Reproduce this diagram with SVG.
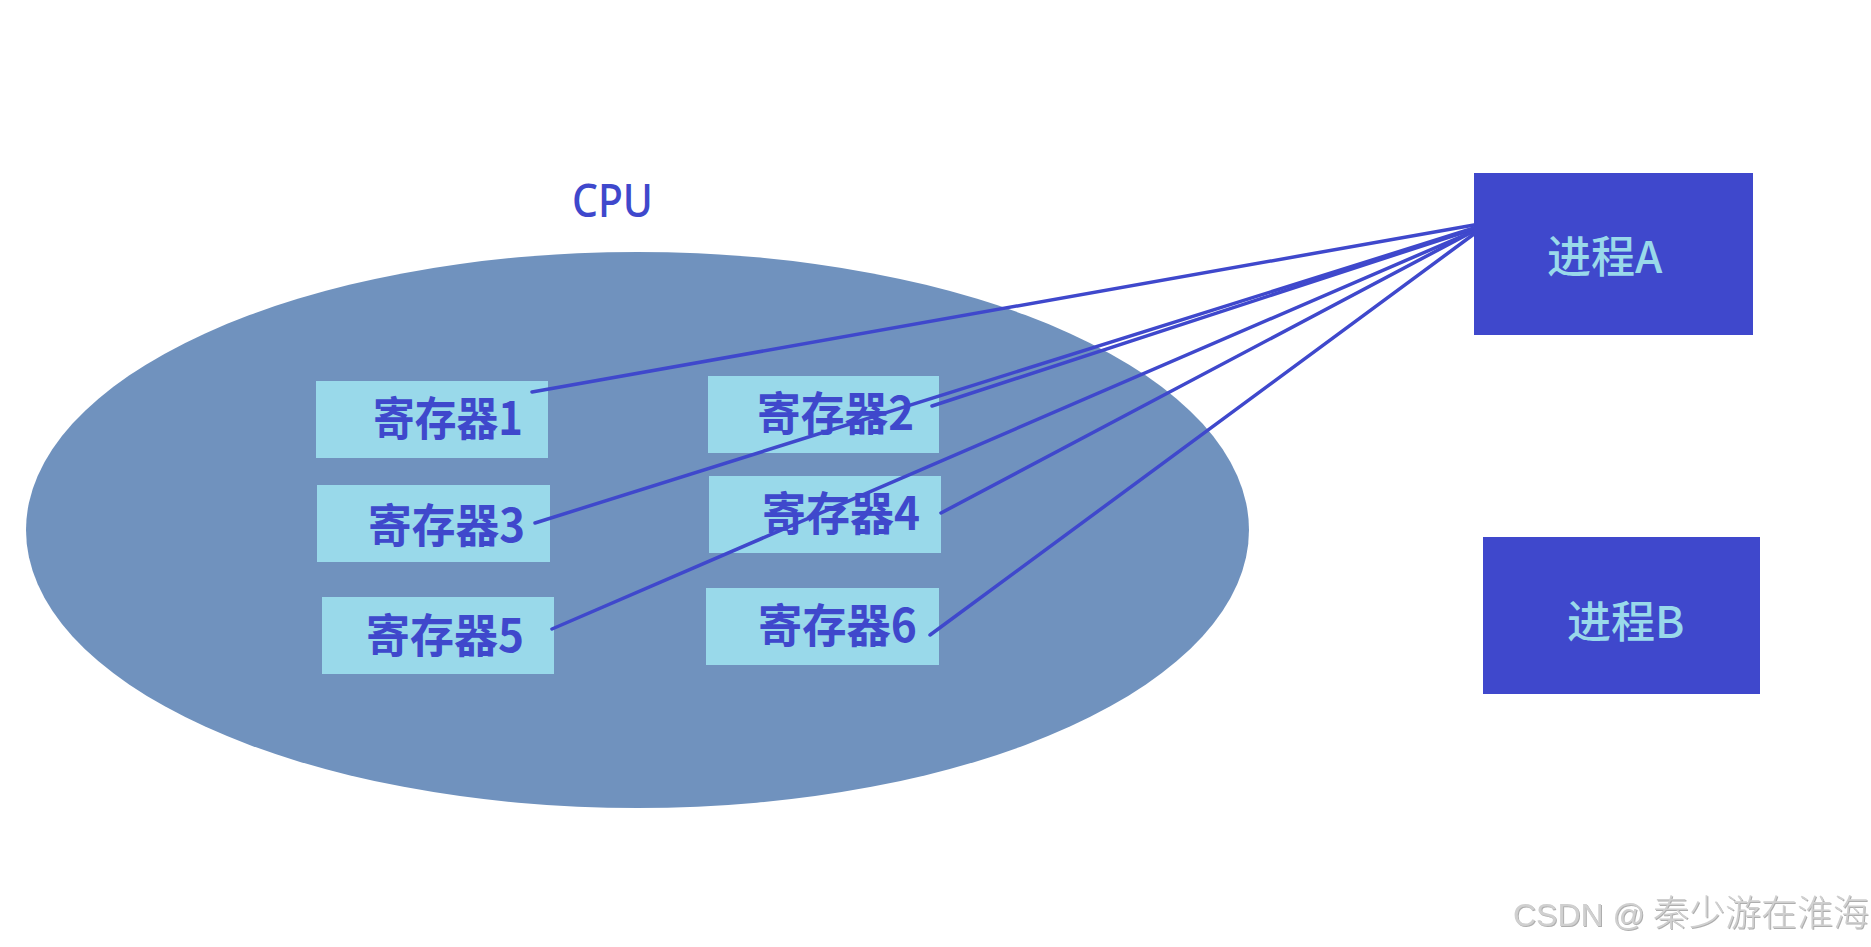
<svg xmlns="http://www.w3.org/2000/svg" width="1871" height="947" viewBox="0 0 1871 947">
  <defs>
    <style>
      .reg rect { fill: #99d9ea; }
      .reg text { fill: #3f48cc; font-family: "Noto Sans CJK SC", "Noto Sans", sans-serif; font-size: 46px; font-weight: 700; }
      .proc rect { fill: #3f48cc; }
      .proc text { fill: #99d9ea; font-family: "Noto Sans CJK SC", "Noto Sans", sans-serif; font-size: 44px; font-weight: 500; }
      .conn line { stroke: #3f48cc; stroke-width: 3.5; stroke-linecap: round; }
      .wm { fill: #d0d0d0; font-family: "Liberation Sans", "Noto Sans CJK SC", sans-serif; }
    </style>
    <filter id="emboss" x="-5%" y="-30%" width="110%" height="160%">
      <feDropShadow dx="1" dy="1" stdDeviation="0.6" flood-color="#9a9a9a" flood-opacity="0.8"/>
    </filter>
  </defs>
  <rect width="1871" height="947" fill="#ffffff"/>

  <g id="cpu">
    <ellipse cx="637.5" cy="530" rx="611.5" ry="278" fill="#7092be"/>
    <text x="572" y="217" fill="#3f48cc" font-family="Noto Sans, sans-serif" font-size="45" font-weight="500" textLength="81" lengthAdjust="spacingAndGlyphs">CPU</text>
  </g>

  <g id="reg1" class="reg">
    <rect x="316" y="381" width="232" height="77"/>
    <text x="373" y="435" textLength="150" lengthAdjust="spacingAndGlyphs">寄存器1</text>
  </g>
  <g id="reg2" class="reg">
    <rect x="708" y="376" width="231" height="77"/>
    <text x="757" y="430" textLength="157" lengthAdjust="spacingAndGlyphs">寄存器2</text>
  </g>
  <g id="reg3" class="reg">
    <rect x="317" y="485" width="233" height="77"/>
    <text x="368" y="542" textLength="157" lengthAdjust="spacingAndGlyphs">寄存器3</text>
  </g>
  <g id="reg4" class="reg">
    <rect x="709" y="476" width="232" height="77"/>
    <text x="762" y="530" textLength="158" lengthAdjust="spacingAndGlyphs">寄存器4</text>
  </g>
  <g id="reg5" class="reg">
    <rect x="322" y="597" width="232" height="77"/>
    <text x="366" y="652" textLength="158" lengthAdjust="spacingAndGlyphs">寄存器5</text>
  </g>
  <g id="reg6" class="reg">
    <rect x="706" y="588" width="233" height="77"/>
    <text x="758" y="642" textLength="159" lengthAdjust="spacingAndGlyphs">寄存器6</text>
  </g>

  <g id="connectors" class="conn">
    <line x1="532" y1="392" x2="1474" y2="225"/>
    <line x1="932" y1="406" x2="1474" y2="229"/>
    <line x1="535" y1="523" x2="1474" y2="228"/>
    <line x1="941" y1="513" x2="1474" y2="231"/>
    <line x1="552" y1="629" x2="1474" y2="231"/>
    <line x1="930" y1="635" x2="1474" y2="234"/>
  </g>

  <g id="procA" class="proc">
    <rect x="1474" y="173" width="279" height="162"/>
    <text x="1547" y="273">进程A</text>
  </g>
  <g id="procB" class="proc">
    <rect x="1483" y="537" width="277" height="157"/>
    <text x="1567" y="638">进程B</text>
  </g>

  <text class="wm" y="926" filter="url(#emboss)"><tspan x="1513" font-size="32">CSDN @</tspan><tspan x="1653" font-size="36" font-family="Noto Sans CJK SC, sans-serif" font-weight="300">秦少游在淮海</tspan></text>
</svg>
